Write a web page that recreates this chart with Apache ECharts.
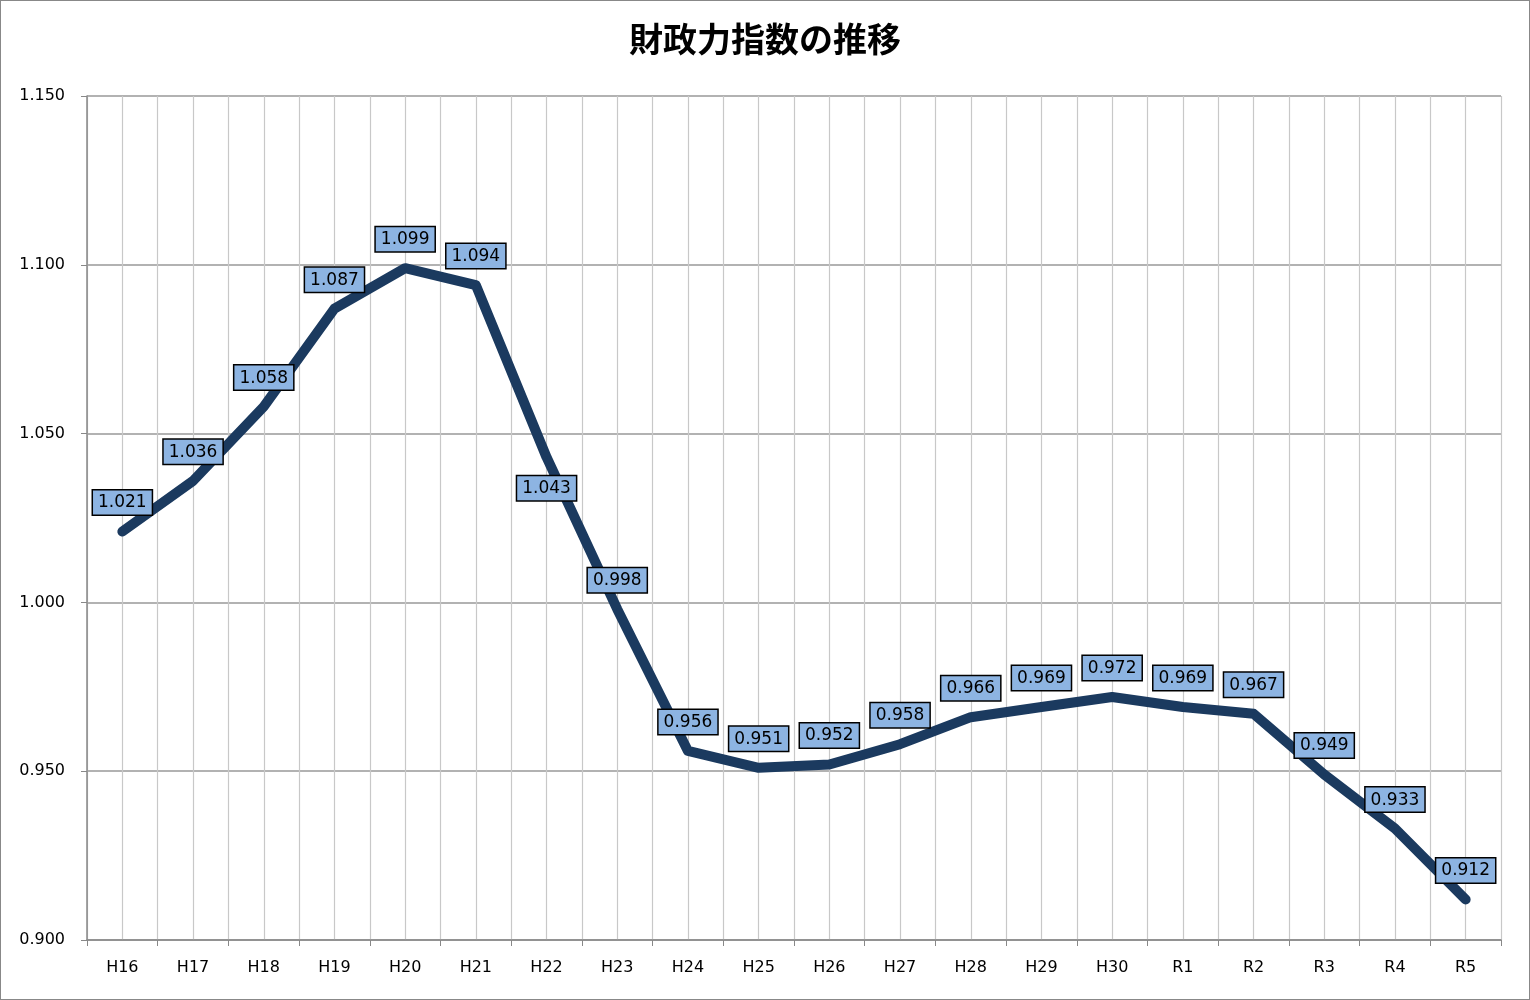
<!DOCTYPE html>
<html><head><meta charset="utf-8">
<script src="https://cdn.jsdelivr.net/npm/echarts@6/dist/echarts.min.js"></script>
<style>html,body{margin:0;padding:0;background:#fff}#c{width:1528px;height:998px;border:1px solid #888}</style>
</head><body><div id="c"></div>
<script>
const categories=['H16','H17','H18','H19','H20','H21','H22','H23','H24','H25','H26','H27','H28','H29','H30','R1','R2','R3','R4','R5'];
const values=[1.021,1.036,1.058,1.087,1.099,1.094,1.043,0.998,0.956,0.951,0.952,0.958,0.966,0.969,0.972,0.969,0.967,0.949,0.933,0.912];
const yTicks={min:0.9,max:1.15,interval:0.05};
const chart=echarts.init(document.getElementById('c'));
const labelStyle={show:true,position:'top',distance:16,formatter:p=>Number(p.value).toFixed(3),
  backgroundColor:'#8DB4E2',borderColor:'#000',borderWidth:1.5,padding:[4,5,3,5],
  color:'#000',fontSize:17,fontFamily:'DejaVu Sans, Liberation Sans'};
chart.setOption({
  animation:false,
  title:{text:'財政力指数の推移',left:'center',top:16,textStyle:{fontSize:34,fontWeight:'bold',color:'#000',fontFamily:'Noto Sans CJK JP'}},
  grid:{left:86,right:28,top:95,bottom:59},
  xAxis:[{type:'category',data:categories,boundaryGap:true,
    axisLine:{lineStyle:{color:'#888',width:1.5}},axisTick:{show:true,length:6,lineStyle:{color:'#888'}},
    axisLabel:{color:'#000',fontSize:16,margin:20,fontFamily:'DejaVu Sans, Liberation Sans'},splitLine:{show:false}},
   {type:'value',min:0,max:40,interval:1,show:true,axisLine:{show:false},axisTick:{show:false},axisLabel:{show:false},
    splitLine:{show:true,lineStyle:{color:'#c8c8c8',width:1.2}}}],
  yAxis:{type:'value',min:yTicks.min,max:yTicks.max,interval:yTicks.interval,
    axisLine:{show:true,lineStyle:{color:'#888',width:1.5}},axisTick:{show:true,length:6,lineStyle:{color:'#888'}},
    axisLabel:{color:'#000',fontSize:16,margin:22,formatter:v=>v.toFixed(3),fontFamily:'DejaVu Sans, Liberation Sans'},
    splitLine:{lineStyle:{color:'#999',width:1.5}}},
  series:[{type:'line',xAxisIndex:0,
    data:values.map((v,i)=>({value:v,label:i===6?{position:'bottom',distance:18}:(i===5?{offset:[14,0]}:{})})),
    symbol:'circle',symbolSize:2,showSymbol:true,itemStyle:{color:'#1B3A5F'},
    lineStyle:{color:'#1B3A5F',width:10,cap:'round',join:'round'},
    label:labelStyle,labelLayout:{hideOverlap:false},z:3}]
});
</script></body></html>
